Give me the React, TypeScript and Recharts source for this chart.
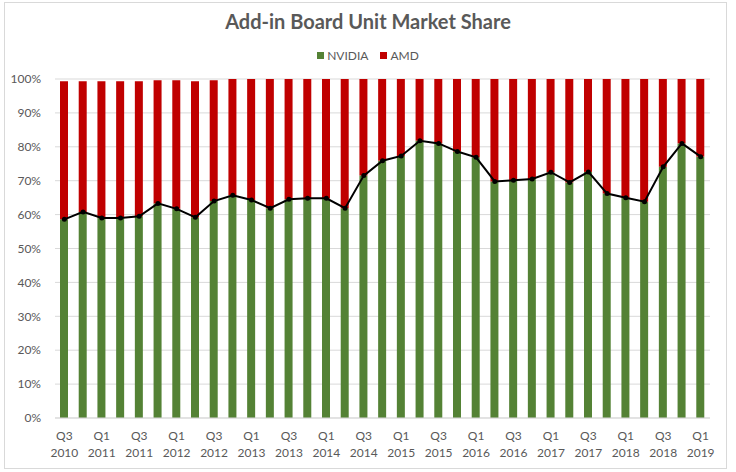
import {
  ComposedChart,
  Bar,
  Line,
  XAxis,
  YAxis,
  CartesianGrid,
} from 'recharts'

const quarters = [
  'Q3 2010', 'Q4 2010', 'Q1 2011', 'Q2 2011', 'Q3 2011', 'Q4 2011',
  'Q1 2012', 'Q2 2012', 'Q3 2012', 'Q4 2012', 'Q1 2013', 'Q2 2013',
  'Q3 2013', 'Q4 2013', 'Q1 2014', 'Q2 2014', 'Q3 2014', 'Q4 2014',
  'Q1 2015', 'Q2 2015', 'Q3 2015', 'Q4 2015', 'Q1 2016', 'Q2 2016',
  'Q3 2016', 'Q4 2016', 'Q1 2017', 'Q2 2017', 'Q3 2017', 'Q4 2017',
  'Q1 2018', 'Q2 2018', 'Q3 2018', 'Q4 2018', 'Q1 2019',
]

const nvidiaShare = [
  58.6, 60.8, 59.0, 59.0, 59.5, 63.3, 61.7, 59.2, 64.0, 65.7, 64.3, 61.9,
  64.5, 64.8, 64.8, 61.9, 71.5, 75.9, 77.3, 81.8, 81.0, 78.6, 76.9, 69.8,
  70.1, 70.5, 72.5, 69.5, 72.6, 66.2, 65.0, 63.8, 74.1, 81.0, 77.1,
]

const amdShare = [
  40.7, 38.5, 40.3, 40.3, 39.8, 36.3, 37.9, 40.1, 35.6, 34.3, 35.7, 38.1,
  35.5, 35.2, 35.2, 38.1, 28.5, 24.1, 22.7, 18.2, 19.0, 21.4, 23.1, 30.2,
  29.9, 29.5, 27.5, 30.5, 27.4, 33.8, 35.0, 36.2, 25.9, 19.0, 22.9,
]

const yTicks = [0, 10, 20, 30, 40, 50, 60, 70, 80, 90, 100]

const GREEN = '#548235'
const RED = '#c00000'
const TEXT = '#595959'
const FONT = 'Lato, "Open Sans", sans-serif'

const data = quarters.map((q, i) => ({
  quarter: q,
  nvidia: nvidiaShare[i],
  amd: amdShare[i],
}))

function QuarterTick({ x, y, payload }: any) {
  const [q, yr] = String(payload.value).split(' ')
  return (
    <text x={x} y={y} textAnchor="middle" fill={TEXT} fontSize={12} fontFamily={FONT}>
      <tspan x={x} dy={14}>{q}</tspan>
      <tspan x={x} dy={17}>{yr}</tspan>
    </text>
  )
}

export default function App() {
  return (
    <div style={{ position: 'absolute', left: 0, top: 0, width: 736, height: 472, background: '#fff' }}>
      <div
        style={{
          position: 'absolute',
          left: 4,
          top: 2,
          width: 721,
          height: 465,
          border: '1px solid #d9d9d9',
        }}
      />
      <div
        style={{
          position: 'absolute',
          top: 9,
          left: 0,
          width: 736,
          textAlign: 'center',
          fontFamily: FONT,
          fontWeight: 700,
          fontSize: 20,
          color: TEXT,
        }}
      >
        Add-in Board Unit Market Share
      </div>
      <div
        style={{
          position: 'absolute',
          top: 48,
          left: 0,
          width: 736,
          display: 'flex',
          justifyContent: 'center',
          gap: 12,
          fontFamily: FONT,
          fontSize: 12,
          color: TEXT,
        }}
      >
        <span style={{ display: 'flex', alignItems: 'center', gap: 3 }}>
          <span style={{ width: 7, height: 7, background: GREEN, display: 'inline-block' }} />
          NVIDIA
        </span>
        <span style={{ display: 'flex', alignItems: 'center', gap: 3 }}>
          <span style={{ width: 7, height: 7, background: RED, display: 'inline-block' }} />
          AMD
        </span>
      </div>
      <div style={{ position: 'absolute', left: 0, top: 0 }}>
        <ComposedChart
          width={736}
          height={472}
          data={data}
          margin={{ top: 79, right: 26, left: 0, bottom: 0 }}
          barCategoryGap="55%"
        >
          <CartesianGrid vertical={false} stroke="#d9d9d9" />
          <XAxis
            dataKey="quarter"
            interval={1}
            height={54}
            tick={<QuarterTick />}
            tickLine={false}
            axisLine={{ stroke: '#d9d9d9' }}
          />
          <YAxis
            width={55}
            domain={[0, 100]}
            ticks={yTicks}
            tickFormatter={(v) => `${v}%`}
            tick={{ fill: TEXT, fontSize: 12, fontFamily: FONT }}
            tickLine={false}
            axisLine={false}
            tickMargin={8}
          />
          <Bar dataKey="nvidia" stackId="share" fill={GREEN} barSize={8} isAnimationActive={false} />
          <Bar dataKey="amd" stackId="share" fill={RED} barSize={8} isAnimationActive={false} />
          <Line
            type="linear"
            dataKey="nvidia"
            stroke="#000"
            strokeWidth={2}
            dot={{ r: 2.5, fill: '#000', stroke: '#000', strokeWidth: 0 }}
            isAnimationActive={false}
          />
        </ComposedChart>
      </div>
    </div>
  )
}
